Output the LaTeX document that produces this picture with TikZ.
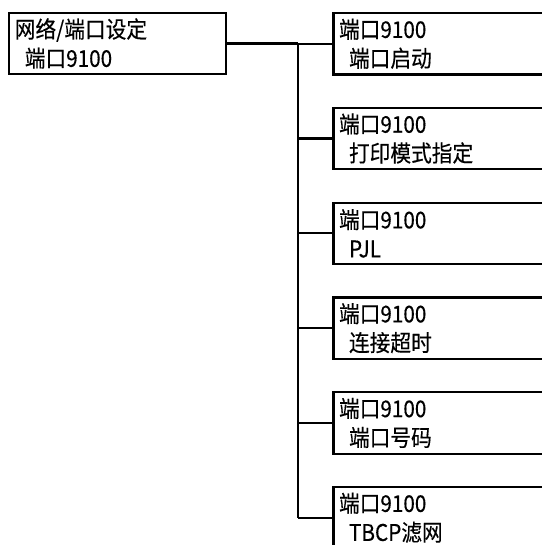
\documentclass[tikz,border=0pt]{standalone}
\usepackage{fontspec}
\setmainfont{Noto Sans CJK SC}[FakeStretch=0.9, FakeBold=0.3]

\tikzset{
  menubox/.style={draw, line width=2.2pt, outer sep=0pt, anchor=north west,
    minimum height=61.5pt, align=left, inner xsep=5.5pt, inner ysep=0pt,
    font=\fontsize{23}{29}\selectfont},
  link/.style={line width=2.2pt}
}
\newcommand{\indt}{\hspace*{10pt}}

\begin{document}
\begin{tikzpicture}[x=1pt, y=-1pt]
    \useasboundingbox (0,0) rectangle (541,545);

    % Top menu
    \node[menubox, text width=206pt] (root) at (9.3,12.7)
        {网络/端口设定\\\indt 端口9100};

    % Sub items
    \foreach \lab [count=\i] in {端口启动, 打印模式指定, PJL, 连接超时, 端口号码, TBCP滤网} {
        \node[menubox, text width=289pt] (p\i) at (333.5,{13+94.8*(\i-1)})
            {端口9100\\\indt \lab};
    }

    % Connectors
    \coordinate (bus) at (298,0);
    \draw[link] (root.east) -- (root.east -| bus);
    \draw[link] (bus |- root.east) -- (bus |- p6.west);
    \foreach \i in {1,...,6} {
        \draw[link] (bus |- p\i.west) -- (p\i.west);
    }
\end{tikzpicture}
\end{document}
